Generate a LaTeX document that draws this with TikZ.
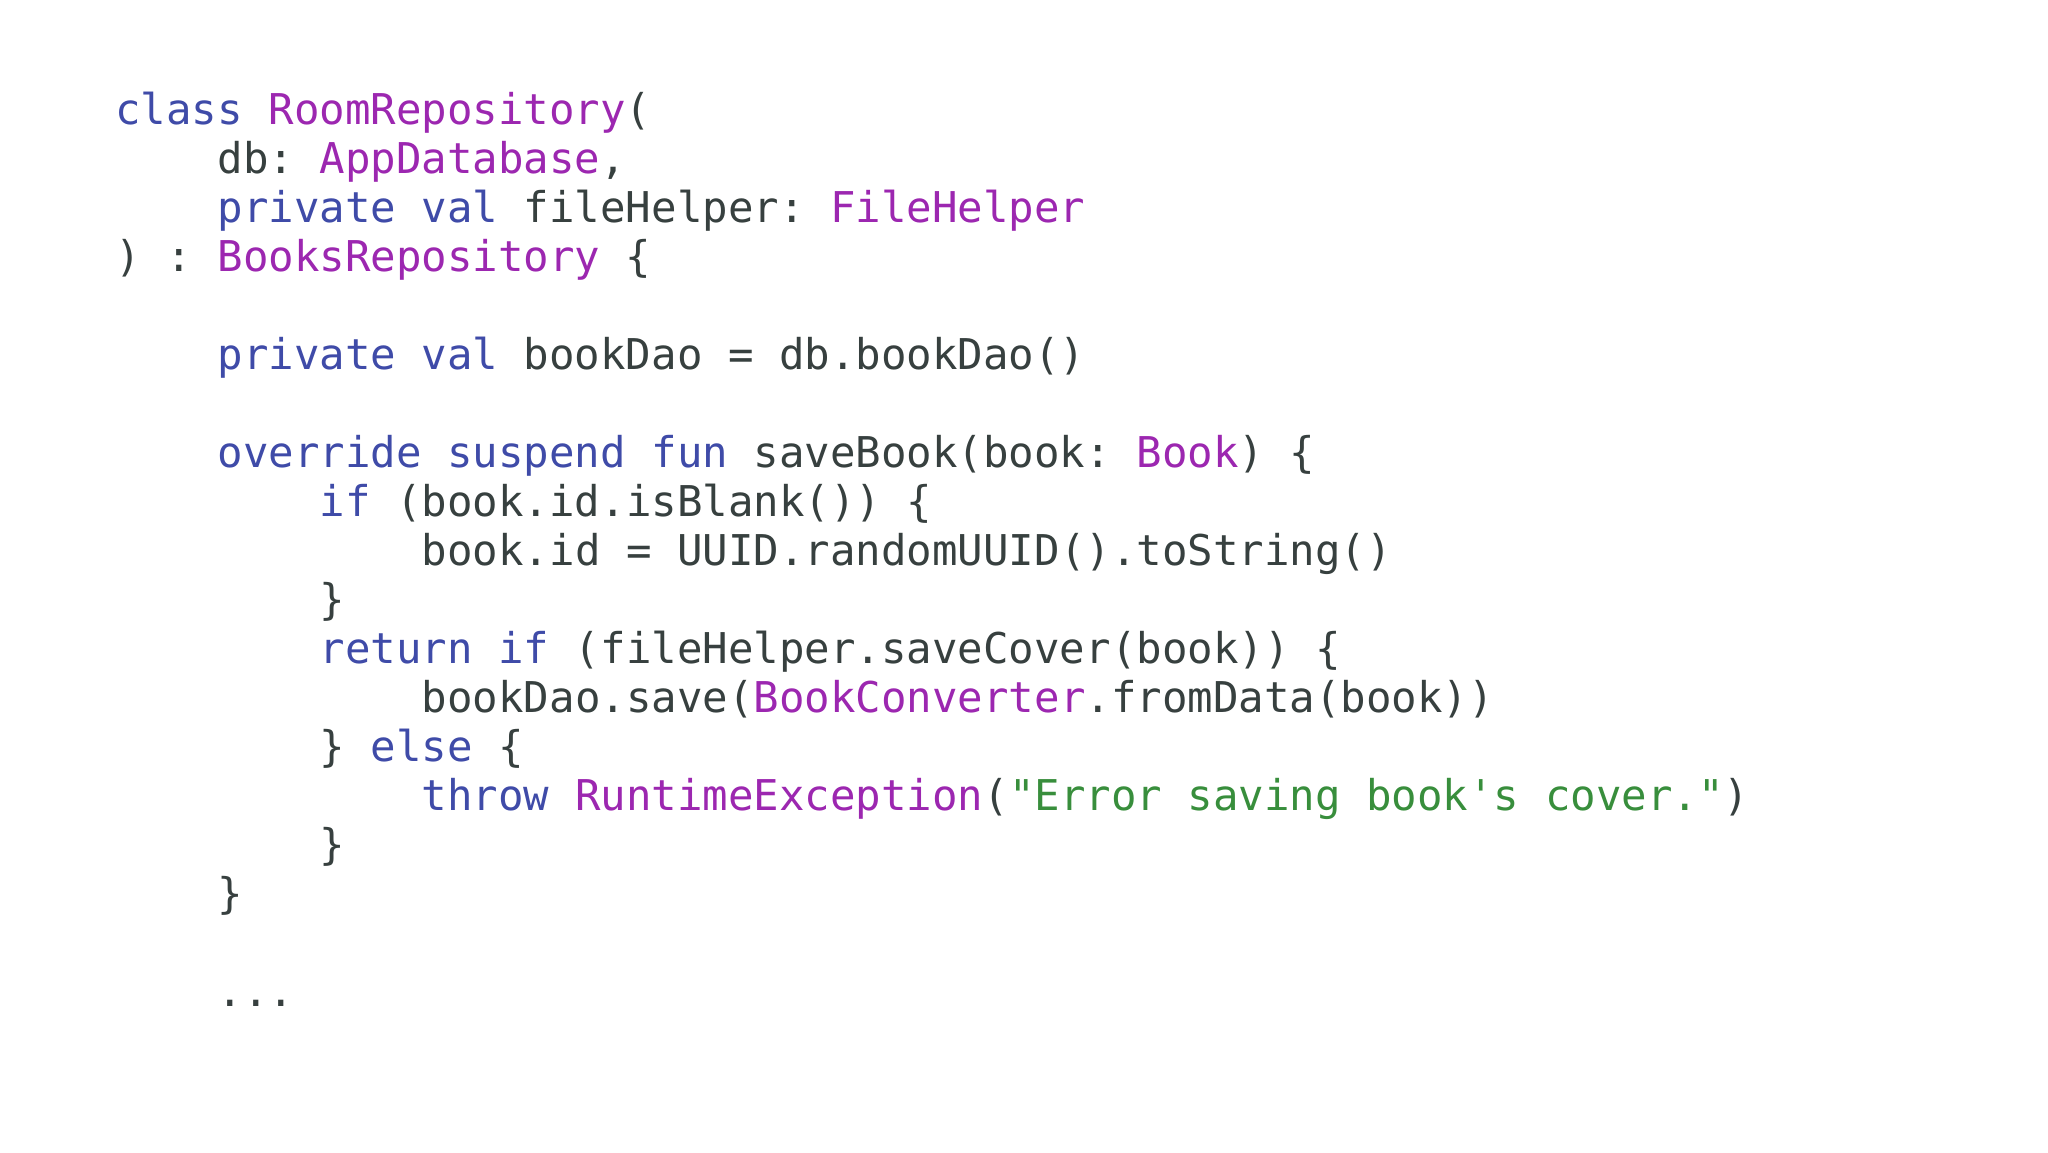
\documentclass[tikz,border=0pt]{standalone}
\usepackage{fontspec}
\setmonofont{DejaVu Sans Mono}
\definecolor{kw}{HTML}{3F4BA8}
\definecolor{ty}{HTML}{9C27B0}
\definecolor{st}{HTML}{388E3C}
\definecolor{tx}{HTML}{37403F}
\newcommand{\K}[1]{\textcolor{kw}{#1}}
\newcommand{\T}[1]{\textcolor{ty}{#1}}
\newcommand{\Sg}[1]{\textcolor{st}{#1}}
\tikzset{codeline/.style={anchor=base west,inner sep=0pt,text=tx,font=\ttfamily\fontsize{21.2}{24}\selectfont}}
\begin{document}
\begin{tikzpicture}[x=1pt,y=1pt]
\useasboundingbox (0,0) rectangle (1024,-576);
\def\L#1#2#3{\node[codeline] (l#1) at ({57.5+#2*12.77},{-62-#1*24.5}) {#3};}
\L{0}{0}{\K{class} \T{RoomRepository}(}
\L{1}{4}{db: \T{AppDatabase},}
\L{2}{4}{\K{private} \K{val} fileHelper: \T{FileHelper}}
\L{3}{0}{) : \T{BooksRepository} \{}
\L{5}{4}{\K{private} \K{val} bookDao = db.bookDao()}
\L{7}{4}{\K{override} \K{suspend} \K{fun} saveBook(book: \T{Book}) \{}
\L{8}{8}{\K{if} (book.id.isBlank()) \{}
\L{9}{12}{book.id = UUID.randomUUID().toString()}
\L{10}{8}{\}}
\L{11}{8}{\K{return} \K{if} (fileHelper.saveCover(book)) \{}
\L{12}{12}{bookDao.save(\T{BookConverter}.fromData(book))}
\L{13}{8}{\} \K{else} \{}
\L{14}{12}{\K{throw} \T{RuntimeException}(\Sg{"Error saving book's cover."})}
\L{15}{8}{\}}
\L{16}{4}{\}}
\L{18}{4}{...}
\end{tikzpicture}
\end{document}
